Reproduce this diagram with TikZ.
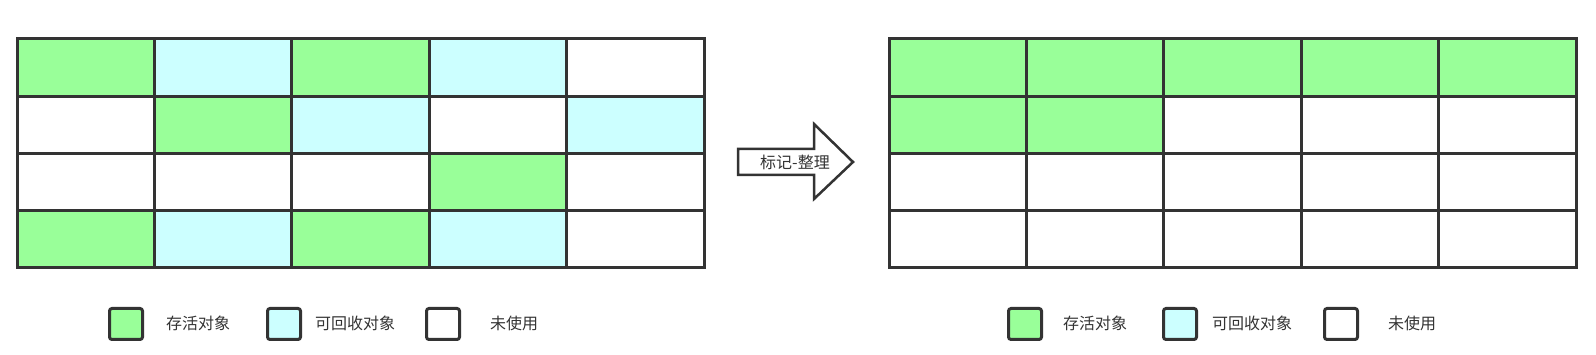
\documentclass[tikz,border=0pt]{standalone}
\usepackage{fontspec}
\newfontfamily\cjk{Noto Sans CJK SC}
\definecolor{live}{HTML}{99FF99}
\definecolor{dead}{HTML}{CCFFFF}
\definecolor{edge}{HTML}{333333}
\begin{document}
\begin{tikzpicture}[x=1pt,y=-1pt,
  cell/.style={draw=edge, line width=3pt, minimum width=137.4pt, minimum height=57.25pt, inner sep=0pt, outer sep=0pt, anchor=north west},
  keybox/.style={draw=edge, line width=3pt, minimum width=33pt, minimum height=31pt, inner sep=0pt, rounded corners=2.5pt, anchor=north west},
  lbl/.style={font=\cjk\fontsize{16}{19}\selectfont, text=edge, inner sep=0pt, anchor=west}]
\useasboundingbox (0,0) rectangle (1596,355);
% left grid
\foreach \c [count=\i from 0] in {live,dead,live,dead,white}
  \node[cell, fill=\c] (L1\i) at (17+137.4*\i,39) {};
\foreach \c [count=\i from 0] in {white,live,dead,white,dead}
  \node[cell, fill=\c] (L2\i) at (17+137.4*\i,96.25) {};
\foreach \c [count=\i from 0] in {white,white,white,live,white}
  \node[cell, fill=\c] (L3\i) at (17+137.4*\i,153.5) {};
\foreach \c [count=\i from 0] in {live,dead,live,dead,white}
  \node[cell, fill=\c] (L4\i) at (17+137.4*\i,210.75) {};
% right grid
\foreach \c [count=\i from 0] in {live,live,live,live,live}
  \node[cell, fill=\c] (R1\i) at (889+137.4*\i,39) {};
\foreach \c [count=\i from 0] in {live,live,white,white,white}
  \node[cell, fill=\c] (R2\i) at (889+137.4*\i,96.25) {};
\foreach \c [count=\i from 0] in {white,white,white,white,white}
  \node[cell, fill=\c] (R3\i) at (889+137.4*\i,153.5) {};
\foreach \c [count=\i from 0] in {white,white,white,white,white}
  \node[cell, fill=\c] (R4\i) at (889+137.4*\i,210.75) {};
% arrow
\draw[draw=edge, fill=white, line width=2.5pt, line join=miter]
  (738,149) -- (814,149) -- (814,124) -- (853,162) -- (814,199) -- (814,175) -- (738,175) -- cycle;
\node[lbl, anchor=center] (arrowtext) at (795,162) {标记-整理};
% left legend
\node[keybox, fill=live] (LK1) at (108,307) {};
\node[lbl] (LT1) at (166,323) {存活对象};
\node[keybox, fill=dead] (LK2) at (266,307) {};
\node[lbl] (LT2) at (315,323) {可回收对象};
\node[keybox, fill=white] (LK3) at (425,307) {};
\node[lbl] (LT3) at (490,323) {未使用};
% right legend
\node[keybox, fill=live] (RK1) at (1007,307) {};
\node[lbl] (RT1) at (1063,323) {存活对象};
\node[keybox, fill=dead] (RK2) at (1162,307) {};
\node[lbl] (RT2) at (1212,323) {可回收对象};
\node[keybox, fill=white] (RK3) at (1323,307) {};
\node[lbl] (RT3) at (1388,323) {未使用};
\end{tikzpicture}
\end{document}
